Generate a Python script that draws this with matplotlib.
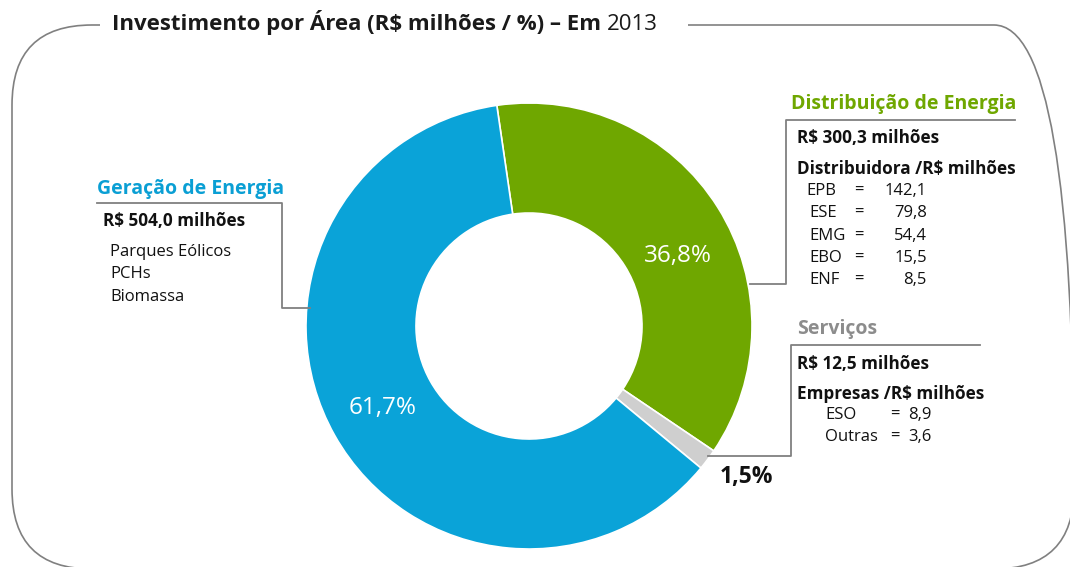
import matplotlib
matplotlib.use('Agg')
import matplotlib.pyplot as plt
import numpy as np
from matplotlib.patches import FancyBboxPatch, Rectangle

# Datos
areas = ['Distribuição de Energia', 'Serviços', 'Geração de Energia']
valores = [300.3, 12.5, 504.0]
cores = ['#6fa700', '#cfcfcf', '#0aa3d8']

distrib_nomes = ['EPB', 'ESE', 'EMG', 'EBO', 'ENF']
distrib_valores = ['142,1', '79,8', '54,4', '15,5', '8,5']
serv_nomes = ['ESO', 'Outras']
serv_valores = ['8,9', '3,6']
geracao_itens = ['Parques Eólicos', 'PCHs', 'Biomassa']

W, H = 1070, 567
plt.rcParams['font.family'] = ['Open Sans', 'DejaVu Sans']

def Y(y):
    return H - y

fig = plt.figure(figsize=(W / 100, H / 100), dpi=100)
ax = fig.add_axes([0, 0, 1, 1])

# Rosca
cx, cy, r = 529, 326, 223
start = 98.3
wedges, _ = ax.pie(valores, colors=cores, startangle=start, counterclock=False,
                   radius=r, center=(cx, Y(cy)),
                   wedgeprops=dict(width=110, edgecolor='white', linewidth=1.2))

ax.set_xlim(0, W)
ax.set_ylim(0, H)
ax.set_aspect('equal')
ax.axis('off')

# Moldura arredondada
moldura = FancyBboxPatch((12, Y(569)), 1062, 544, boxstyle='round,pad=0,rounding_size=80',
                         facecolor='none', edgecolor='#808080', linewidth=1.2)
ax.add_patch(moldura)
ax.add_patch(Rectangle((100, Y(40)), 588, 30, facecolor='white', edgecolor='none', zorder=2))

# Titulo
t1 = ax.text(112, Y(30), 'Investimento por Área (R$ milhões / %) – Em', fontsize=16,
             fontweight='bold', color='#1a1a1a', va='baseline', ha='left', zorder=3)
fig.canvas.draw()
bb = t1.get_window_extent().transformed(ax.transData.inverted())
ax.text(bb.x1 + 6, Y(30), '2013', fontsize=16, color='#1a1a1a', va='baseline', ha='left', zorder=3)

# Rotulos de porcentagem (ajuste de angulo/raio por fatia)
ajuste_ang = [-7, 2, 0]
raio_rot = [164, 265, 168]
total = sum(valores)
ang = start
for i, v in enumerate(valores):
    frac = v / total * 360
    mid = np.deg2rad(ang - frac / 2 + ajuste_ang[i])
    ang -= frac
    pct = f'{v / total * 100:.1f}%'.replace('.', ',')
    if i == 1:
        cor, peso, tam = '#111111', 'bold', 16.5
    else:
        cor, peso, tam = 'white', 'medium', 17.5
    rr = raio_rot[i]
    ax.text(cx + rr * np.cos(mid), Y(cy) + rr * np.sin(mid), pct, fontsize=tam,
            color=cor, fontweight=peso, ha='center', va='center')

linha = dict(color='#808080', linewidth=1.3)
fs_b, fs, fs_t = 12.3, 12, 14

# Distribuicao
ax.plot([750, 786, 786, 1015], [Y(284), Y(284), Y(120), Y(120)], **linha)
ax.text(791, Y(104), areas[0], fontsize=fs_t, fontweight='bold', color='#6fa700', va='center')
ax.text(797, Y(138), 'R$ 300,3 milhões', fontsize=fs_b, fontweight='bold', color='#111111', va='center')
ax.text(797, Y(169), 'Distribuidora /R$ milhões', fontsize=fs_b, fontweight='bold', color='#111111', va='center')
for k, (n, v) in enumerate(zip(distrib_nomes, distrib_valores)):
    yy = Y(191 + k * 22.3)
    ax.text(806 if k == 0 else 809, yy, n, fontsize=fs, color='#111111', va='center')
    ax.text(859, yy, '=', fontsize=fs, color='#111111', va='center', ha='center')
    ax.text(927, yy, v, fontsize=fs, color='#111111', va='center', ha='right')

# Servicos
ax.plot([708, 791, 791, 980], [Y(456), Y(456), Y(345), Y(345)], **linha)
ax.text(797, Y(329), areas[1], fontsize=fs_t, fontweight='bold', color='#8c8c8c', va='center')
ax.text(797, Y(364), 'R$ 12,5 milhões', fontsize=fs_b, fontweight='bold', color='#111111', va='center')
ax.text(797, Y(394), 'Empresas /R$ milhões', fontsize=fs_b, fontweight='bold', color='#111111', va='center')
for k, (n, v) in enumerate(zip(serv_nomes, serv_valores)):
    yy = Y(415 + k * 22)
    ax.text(825, yy, n, fontsize=fs, color='#111111', va='center')
    ax.text(895, yy, '=', fontsize=fs, color='#111111', va='center', ha='center')
    ax.text(908, yy, v, fontsize=fs, color='#111111', va='center', ha='left')

# Geracao
ax.plot([97, 282, 282, 310], [Y(203), Y(203), Y(308), Y(308)], **linha)
ax.text(97, Y(189), areas[2], fontsize=fs_t, fontweight='bold', color='#0a9fd4', va='center')
ax.text(103, Y(221), 'R$ 504,0 milhões', fontsize=fs_b, fontweight='bold', color='#111111', va='center')
for k, item in enumerate(geracao_itens):
    ax.text(110, Y(252 + k * 22.5), item, fontsize=fs, color='#111111', va='center')

fig.savefig('out.png', dpi=100)
